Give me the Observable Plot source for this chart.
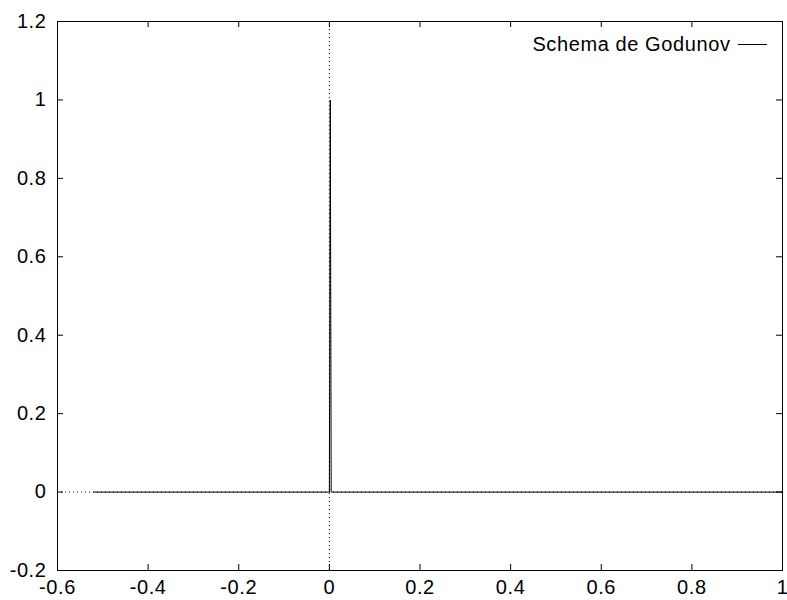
<!DOCTYPE html>
<html>
<head>
<meta charset="utf-8">
<script src="https://cdn.jsdelivr.net/npm/d3@7"></script>
<script src="https://cdn.jsdelivr.net/npm/@observablehq/plot@0.6"></script>
<style>
  html, body { margin: 0; padding: 0; background: #fff; }
  #chart svg { display: block; }
  #chart svg text { letter-spacing: 0.6px; }
</style>
</head>
<body>
<div id="chart"></div>
<script>
// Data: Godunov scheme solution (flat at 0 with a narrow spike at x≈0)
const seriesName = "Schema de Godunov";
const xs = [-0.52, 0, 0.002, 0.004, 1];
const ys = [0, 0, 1, 0, 0];
const xTicks = [-0.6, -0.4, -0.2, 0, 0.2, 0.4, 0.6, 0.8, 1];
const yTicks = [-0.2, 0, 0.2, 0.4, 0.6, 0.8, 1, 1.2];

const data = xs.map((x, i) => ({x, y: ys[i]}));

const W = 787, H = 600;
const mL = 57, mR = 5, mT = 21, mB = 30;
const plotW = W - mL - mR, plotH = H - mT - mB;
const tick = 6;
const fs = 20;

const plot = Plot.plot({
  width: W,
  height: H,
  marginLeft: mL,
  marginRight: mR,
  marginTop: mT,
  marginBottom: mB,
  style: {fontFamily: "'Liberation Sans', Arial, sans-serif", fontSize: fs + "px", background: "#fff", color: "#000"},
  x: {domain: [-0.6, 1], label: null},
  y: {domain: [-0.2, 1.2], label: null},
  marks: [
    Plot.ruleX([0], {stroke: "#000", strokeDasharray: "1,3"}),
    Plot.ruleY([0], {stroke: "#000", strokeDasharray: "1,3"}),
    Plot.line(data, {x: "x", y: "y", stroke: "#000", strokeWidth: 1}),
    Plot.tickX(xTicks, {x: d => d, insetTop: plotH - tick, stroke: "#000"}),
    Plot.tickX(xTicks, {x: d => d, insetBottom: plotH - tick, stroke: "#000"}),
    Plot.tickY(yTicks, {y: d => d, insetRight: plotW - tick, stroke: "#000"}),
    Plot.tickY(yTicks, {y: d => d, insetLeft: plotW - tick, stroke: "#000"}),
    Plot.axisX({ticks: xTicks, tickSize: 0, tickPadding: 9, tickFormat: d => String(d), fontSize: fs, label: null}),
    Plot.axisY({ticks: yTicks, tickSize: 0, tickPadding: 11, tickFormat: d => String(d), fontSize: fs, label: null}),
    Plot.text([seriesName], {frameAnchor: "top-right", text: d => d, dx: -52, dy: 23, textAnchor: "end", lineAnchor: "middle", fontSize: fs, fill: "#000"}),
    Plot.frame({stroke: "#000", strokeWidth: 1})
  ]
});

// Legend line sample next to the legend label
const sx = plot.scale("x"), sy = plot.scale("y");
const xr = sx.apply(1), yt = sy.apply(1.2);
d3.select(plot).append("line")
  .attr("x1", xr - 44).attr("x2", xr - 15)
  .attr("y1", Math.round(yt + 23) + 0.5).attr("y2", Math.round(yt + 23) + 0.5)
  .attr("stroke", "#000").attr("stroke-width", 1);

document.getElementById("chart").appendChild(plot);
</script>
</body>
</html>
